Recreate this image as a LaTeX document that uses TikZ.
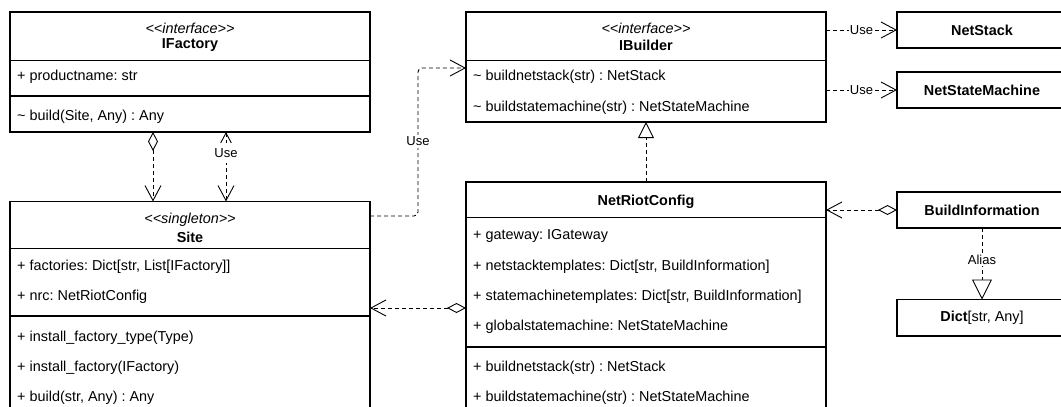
\documentclass[tikz,border=0pt]{standalone}
\usepackage{fontspec}
\setmainfont{Liberation Sans}
\usetikzlibrary{arrows.meta}
\frenchspacing
\newcommand{\stereo}[1]{<\kern0pt<#1>\kern0pt>}
\tikzset{
  cls/.style={draw, line width=1.1pt, anchor=north west, inner sep=0pt, outer sep=0pt},
  row/.style={anchor=west, inner sep=0pt, font=\fontsize{14.4}{17}\selectfont},
  hdr/.style={inner sep=0pt, font=\fontsize{14.4}{17}\selectfont\itshape},
  ttl/.style={inner sep=0pt, font=\fontsize{14.4}{17}\selectfont\bfseries},
  sep/.style={line width=1.1pt},
  dep/.style={line width=0.9pt, dash pattern=on 4pt off 3pt},
  openend/.style={-{Straight Barb[length=15pt,width=16pt,line width=0.9pt]}},
  bothopen/.style={{Straight Barb[length=15pt,width=16pt,line width=0.9pt]}-{Straight Barb[length=15pt,width=16pt,line width=0.9pt]}},
  aggr/.style={{Diamond[open,fill=white,length=19pt,width=10pt,line width=0.9pt]}-{Straight Barb[length=15pt,width=16pt,line width=0.9pt]}},
  realz/.style={-{Triangle[open,fill=white,length=16pt,width=16pt,line width=0.9pt]}},
  aliasz/.style={-{Triangle[open,fill=white,length=20pt,width=20pt,line width=0.9pt]}},
  lbl/.style={fill=white, inner xsep=1pt, inner ysep=2pt, font=\fontsize{13}{15}\selectfont},
}
\begin{document}
\begin{tikzpicture}[x=1pt,y=-1pt]
\useasboundingbox (0,0) rectangle (1061,407);
\clip (0,0) rectangle (1061,407);

% IFactory
\node[cls, minimum width=360pt, minimum height=120pt] (ifactory) at (10,12) {};
\draw[sep] ([yshift=-48.5pt]ifactory.north west) -- ([yshift=-48.5pt]ifactory.north east);
\draw[sep] ([yshift=-84pt]ifactory.north west) -- ([yshift=-84pt]ifactory.north east);
\node[hdr] (ifst) at (190,28) {\stereo{interface}};
\node[ttl] (ifti) at (190,45) {IFactory};
\node[row] (ifr1) at (17,77) {+ productname: str};
\node[row] (ifr2) at (17,117) {\textasciitilde{} build(Site, Any) : Any};

% Site
\node[cls, minimum width=360pt, minimum height=230pt] (site) at (10,201.5) {};
\draw[sep] ([yshift=-47pt]site.north west) -- ([yshift=-47pt]site.north east);
\draw[sep] ([yshift=-114.5pt]site.north west) -- ([yshift=-114.5pt]site.north east);
\node[hdr] (sist) at (190,219.5) {\stereo{singleton}};
\node[ttl] (siti) at (190,237) {Site};
\node[row] (sir1) at (17,267) {+ factories: Dict[str, List[IFactory]]};
\node[row] (sir2) at (17,297) {+ nrc: NetRiotConfig};
\node[row] (sir3) at (17,338) {+ install\_factory\_type(Type)};
\node[row] (sir4) at (17,368) {+ install\_factory(IFactory)};
\node[row] (sir5) at (17,398) {+ build(str, Any) : Any};

% IBuilder
\node[cls, minimum width=360pt, minimum height=110pt] (ibuilder) at (466,12) {};
\draw[sep] ([yshift=-48.5pt]ibuilder.north west) -- ([yshift=-48.5pt]ibuilder.north east);
\node[hdr] (ibst) at (646,28) {\stereo{interface}};
\node[ttl] (ibti) at (646,45) {IBuilder};
\node[row] (ibr1) at (473,77) {\textasciitilde{} buildnetstack(str) : NetStack};
\node[row] (ibr2) at (473,107.5) {\textasciitilde{} buildstatemachine(str) : NetStateMachine};

% NetRiotConfig
\node[cls, minimum width=360pt, minimum height=250pt] (netriot) at (466,182) {};
\draw[sep] ([yshift=-35.5pt]netriot.north west) -- ([yshift=-35.5pt]netriot.north east);
\draw[sep] ([yshift=-165pt]netriot.north west) -- ([yshift=-165pt]netriot.north east);
\node[ttl] (nrti) at (646,201.5) {NetRiotConfig};
\node[row] (nrr1) at (473,235.5) {+ gateway: IGateway};
\node[row] (nrr2) at (473,266.5) {+ netstacktemplates: Dict[str, BuildInformation]};
\node[row] (nrr3) at (473,296.5) {+ statemachinetemplates: Dict[str, BuildInformation]};
\node[row] (nrr4) at (473,326.5) {+ globalstatemachine: NetStateMachine};
\node[row] (nrr5) at (473,368) {+ buildnetstack(str) : NetStack};
\node[row] (nrr6) at (473,398) {+ buildstatemachine(str) : NetStateMachine};

% Right-hand boxes
\node[cls, minimum width=170pt, minimum height=36pt] (netstack) at (897,12) {};
\node[ttl] (nsti) at (netstack.center) {NetStack};
\node[cls, minimum width=170pt, minimum height=36pt] (nsm) at (897,72) {};
\node[ttl] (nsmti) at (nsm.center) {NetStateMachine};
\node[cls, minimum width=170pt, minimum height=36pt] (buildinfo) at (897,192) {};
\node[ttl] (biti) at (buildinfo.center) {BuildInformation};
\node[cls, minimum width=170pt, minimum height=36.5pt] (dict) at (897,299.5) {};
\node[inner sep=0pt, font=\fontsize{14.4}{17}\selectfont] (dictti) at (dict.center) {\textbf{Dict}[str, Any]};

% Connectors
\draw[dep, aggr] ([xshift=-37pt]ifactory.south) -- ([xshift=-37pt]site.north);
\draw[dep, bothopen] ([xshift=36pt]ifactory.south) -- node[lbl, pos=0.3, inner ysep=5.5pt] (uselbl1) {Use} ([xshift=36pt]site.north);

\coordinate (usebend) at (418,68);
\draw[dep, openend, rounded corners=4pt] ([yshift=-14.5pt]site.north east) -| (usebend) -- ([yshift=-56pt]ibuilder.north west);
\node[lbl] (uselbl2) at (418,141.5) {Use};

\draw[dep, realz] (netriot.north) -- (ibuilder.south);
\draw[dep, aggr] ([yshift=-126pt]netriot.north west) -- ([yshift=-106.5pt]site.north east);

\draw[dep, openend] ([yshift=-18pt]ibuilder.north east) -- node[lbl, inner xsep=0.5pt] (uselbl3) {Use} (netstack.west);
\draw[dep, openend] ([yshift=-78pt]ibuilder.north east) -- node[lbl, inner xsep=0.5pt] (uselbl4) {Use} (nsm.west);

\draw[dep, aggr] (buildinfo.west) -- ([yshift=-28pt]netriot.north east);
\draw[dep, aliasz] (buildinfo.south) -- node[lbl, pos=0.44] (aliaslbl) {Alias} (dict.north);
\end{tikzpicture}
\end{document}
